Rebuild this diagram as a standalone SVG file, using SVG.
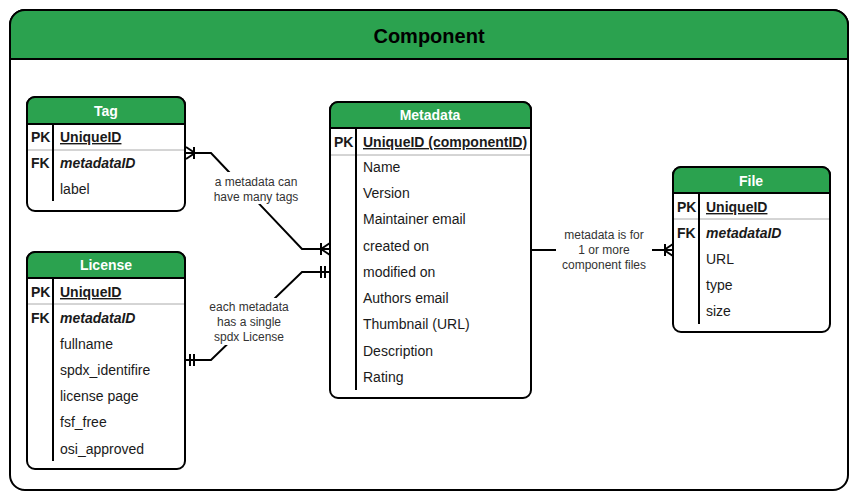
<svg xmlns="http://www.w3.org/2000/svg" width="858" height="500" viewBox="0 0 858 500">
<style>
.box{fill:#fff;stroke:#000;stroke-width:2}
.hdr{fill:#2ba24f;stroke:#000;stroke-width:2}
.ht{font-family:"Liberation Sans",Arial,sans-serif;font-size:14px;font-weight:bold;fill:#fff;text-anchor:middle}
.k{font-family:"Liberation Sans",Arial,sans-serif;font-size:14px;font-weight:bold;fill:#1a1a1a}
.f{font-family:"Liberation Sans",Arial,sans-serif;font-size:14px;fill:#1a1a1a}
.pk{font-weight:bold;text-decoration:underline}
.fk{font-weight:bold;font-style:italic}
.sep{stroke:#aaa;stroke-width:1}
.vl{stroke:#000;stroke-width:2}
.ln{fill:none;stroke:#000;stroke-width:2}
.lb{font-family:"Liberation Sans",Arial,sans-serif;font-size:12px;fill:#333;text-anchor:middle}
</style>
<g id="component">
<rect x="10" y="10" width="838" height="480" rx="15" class="box"/>
<path d="M10,59 V25 A15,15 0 0 1 25,10 H833 A15,15 0 0 1 848,25 V59 Z" class="hdr"/>
<text x="429" y="43" font-family="'Liberation Sans',Arial,sans-serif" font-size="20" font-weight="bold" text-anchor="middle" fill="#000">Component</text>
</g>
<g id="connectors">
<rect x="206" y="172" width="100" height="32" fill="#fff"/>
<rect x="205" y="298" width="88" height="47" fill="#fff"/>
<rect x="556" y="226" width="96" height="47" fill="#fff"/>
<polyline points="185,153 211,153 302,249 330,249" class="ln"/>
<polyline points="185,360 211,360 302,272 330,272" class="ln"/>
<line x1="531" y1="250" x2="673" y2="250" class="ln"/>
<rect x="206" y="172" width="100" height="32" fill="#fff"/>
<rect x="205" y="298" width="88" height="47" fill="#fff"/>
<rect x="556" y="226" width="96" height="47" fill="#fff"/>
<!-- Tag end: one-to-many -->
<path d="M195,153 L186,147 M195,153 L186,159 M194,147 V159" class="ln" stroke-width="2"/>
<!-- Metadata end of tag: one-to-many -->
<path d="M321,249 L330,243 M321,249 L330,255 M321,243 V255" class="ln"/>
<!-- License ends: mandatory one -->
<path d="M190,354 V366 M194,354 V366" class="ln"/>
<path d="M321,266 V278 M325,266 V278" class="ln"/>
<!-- File end: one-to-many -->
<path d="M664,250 L673,244 M664,250 L673,256 M665,244 V256" class="ln"/>
<text class="lb"><tspan x="256" y="186">a metadata can</tspan><tspan x="256" y="201">have many tags</tspan></text>
<text class="lb"><tspan x="249" y="311">each metadata</tspan><tspan x="249" y="326">has a single</tspan><tspan x="249" y="341">spdx License</tspan></text>
<text class="lb"><tspan x="604" y="239">metadata is for</tspan><tspan x="604" y="254">1 or more</tspan><tspan x="604" y="269">component files</tspan></text>
</g>
<g id="tag">
<rect x="27" y="97" width="158" height="114" rx="8" class="box"/>
<path d="M27,124 V105 A8,8 0 0 1 35,97 H177 A8,8 0 0 1 185,105 V124 Z" class="hdr"/>
<text x="106" y="116" class="ht">Tag</text>
<line x1="28" y1="150" x2="184" y2="150" class="sep"/>
<line x1="53" y1="124" x2="53" y2="201" class="vl"/>
<text x="31" y="142" class="k">PK</text><text x="60" y="142" class="f pk">UniqueID</text>
<text x="31" y="168" class="k">FK</text><text x="60" y="168" class="f fk">metadataID</text>
<text x="60" y="194" class="f">label</text>
</g>
<g id="license">
<rect x="27" y="252" width="158" height="217" rx="8" class="box"/>
<path d="M27,278 V260 A8,8 0 0 1 35,252 H177 A8,8 0 0 1 185,260 V278 Z" class="hdr"/>
<text x="106" y="270" class="ht">License</text>
<line x1="28" y1="304" x2="184" y2="304" class="sep"/>
<line x1="53" y1="278" x2="53" y2="461" class="vl"/>
<text x="31" y="297" class="k">PK</text><text x="60" y="297" class="f pk">UniqueID</text>
<text x="31" y="323" class="k">FK</text><text x="60" y="323" class="f fk">metadataID</text>
<text x="60" y="349" class="f">fullname</text>
<text x="60" y="375" class="f">spdx_identifire</text>
<text x="60" y="401" class="f">license page</text>
<text x="60" y="427" class="f">fsf_free</text>
<text x="60" y="454" class="f">osi_approved</text>
</g>
<g id="metadata">
<rect x="330" y="102" width="201" height="296" rx="8" class="box"/>
<path d="M330,128 V110 A8,8 0 0 1 338,102 H523 A8,8 0 0 1 531,110 V128 Z" class="hdr"/>
<text x="430" y="120" class="ht">Metadata</text>
<line x1="331" y1="155" x2="530" y2="155" class="sep"/>
<line x1="356" y1="128" x2="356" y2="390" class="vl"/>
<text x="334" y="147" class="k">PK</text><text x="363" y="147" class="f pk">UniqueID (componentID)</text>
<text x="363" y="172" class="f">Name</text>
<text x="363" y="198" class="f">Version</text>
<text x="363" y="224" class="f">Maintainer email</text>
<text x="363" y="251" class="f">created on</text>
<text x="363" y="277" class="f">modified on</text>
<text x="363" y="303" class="f">Authors email</text>
<text x="363" y="329" class="f">Thumbnail (URL)</text>
<text x="363" y="356" class="f">Description</text>
<text x="363" y="382" class="f">Rating</text>
</g>
<g id="file">
<rect x="673" y="167" width="157" height="165" rx="8" class="box"/>
<path d="M673,193 V175 A8,8 0 0 1 681,167 H822 A8,8 0 0 1 830,175 V193 Z" class="hdr"/>
<text x="751" y="186" class="ht">File</text>
<line x1="674" y1="219" x2="829" y2="219" class="sep"/>
<line x1="699" y1="193" x2="699" y2="324" class="vl"/>
<text x="677" y="212" class="k">PK</text><text x="706" y="212" class="f pk">UniqueID</text>
<text x="677" y="238" class="k">FK</text><text x="706" y="238" class="f fk">metadataID</text>
<text x="706" y="264" class="f">URL</text>
<text x="706" y="290" class="f">type</text>
<text x="706" y="316" class="f">size</text>
</g>
</svg>
